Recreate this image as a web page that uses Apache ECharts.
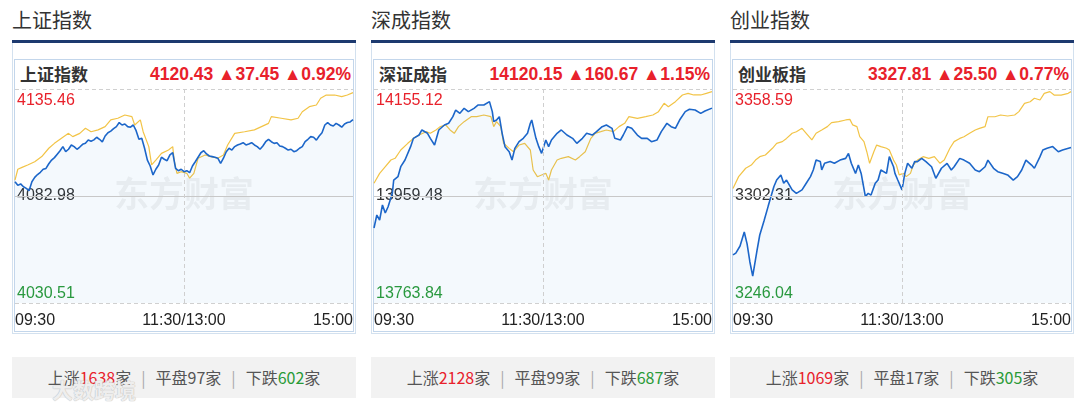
<!DOCTYPE html>
<html>
<head>
<meta charset="utf-8">
<script src="https://cdn.jsdelivr.net/npm/echarts@6/dist/echarts.min.js"></script>
<style>
  body { margin: 0; width: 1080px; height: 405px; overflow: hidden; background: #fff; position: relative;
         font-family: "Liberation Sans", Arial, "Noto Sans CJK SC", sans-serif; }
  .abs { position: absolute; }
  .title { top: 7px; font-size: 20px; line-height: 26px; color: #333; font-family: "Noto Sans CJK SC", sans-serif; }
  .bar { top: 40px; width: 344px; height: 3px; background: #1d3a6f; }
  .box { top: 43px; width: 344px; height: 291px; border: 1px solid #d3e1ef; border-top: none; box-sizing: border-box; }
  .inner { top: 59px; width: 340px; height: 273px; border: 1px solid #c3d6eb; box-sizing: border-box; }
  .hname { top: 61px; font-size: 17px; font-weight: bold; line-height: 26px; color: #333; font-family: "Noto Sans CJK SC", sans-serif; }
  .hquote { top: 61px; font-size: 17.5px; font-weight: bold; line-height: 26px; color: #e8212b; text-align: right; width: 300px; }
  .chart { top: 43px; width: 344px; height: 291px; }
  .stats { top: 357px; width: 344px; height: 41px; background: #f2f2f2; text-align: center; line-height: 41px;
           font-size: 16px; color: #555; font-family: "Noto Sans CJK SC", sans-serif; }
  .stats .up { color: #e8212b; }
  .stats .dn { color: #2a9a37; }
  .stats .sep { color: #aaa; margin: 0 10px; }
  .mark { left: 52px; top: 374px; font-size: 21px; font-weight: bold; color: rgba(255,255,255,0.75);
          text-shadow: 0 0 1px #bbb, 0 0 1px #bbb; font-family: "Noto Sans CJK SC", sans-serif; }
</style>
</head>
<body>
<div id="app"></div>
<div class="abs mark">大数跨境</div>
<script>
// x 轴刻度
const xTicks = ['09:30', '11:30/13:00', '15:00']

const names = ['上证指数', '深证成指', '创业板指']
const titles = ['上证指数', '深成指数', '创业指数']
const quotes = [
  ['4120.43', '▲37.45', '▲0.92%'],
  ['14120.15', '▲160.67', '▲1.15%'],
  ['3327.81', '▲25.50', '▲0.77%']
]
// 上涨 / 平盘 / 下跌 家数
const stats = [
  [1638, 97, 602],
  [2128, 99, 687],
  [1069, 17, 305]
]
// y 轴标签 (最低 / 昨收 / 最高)
const shTicks = ['4030.51', '4082.98', '4135.46']
const szTicks = ['13763.84', '13959.48', '14155.12']
const cyTicks = ['3246.04', '3302.31', '3358.59']

// [分钟, 点位]
const shIndex = [[0,4090.0],[2,4088.2],[4,4088.9],[6,4087.5],[8,4086.7],[10,4085.6],[12,4090.0],[14,4092.1],[16,4093.5],[18,4094.6],[20,4096.1],[22,4096.5],[24,4098.8],[26,4100.6],[28,4101.8],[30,4103.5],[32,4105.2],[34,4107.2],[36,4104.7],[38,4105.9],[40,4108.0],[42,4107.2],[44,4105.9],[46,4107.0],[48,4108.3],[50,4108.8],[52,4110.4],[54,4109.8],[56,4110.5],[58,4111.8],[60,4110.8],[62,4109.5],[64,4112.4],[66,4114.0],[68,4114.8],[70,4116.0],[72,4117.0],[74,4119.0],[76,4117.8],[78,4118.3],[80,4117.0],[82,4116.7],[84,4117.8],[86,4115.0],[88,4110.8],[90,4111.3],[92,4106.4],[94,4100.6],[96,4097.7],[98,4093.3],[100,4096.1],[102,4098.2],[104,4102.0],[106,4101.0],[108,4100.3],[110,4103.1],[112,4104.2],[114,4096.5],[116,4095.4],[118,4096.1],[120,4094.9],[122,4095.4],[124,4094.4],[126,4097.7],[128,4099.8],[130,4102.0],[132,4104.2],[134,4105.2],[136,4103.6],[138,4102.6],[140,4102.3],[142,4102.0],[144,4101.5],[146,4099.0],[148,4101.5],[150,4104.7],[152,4106.4],[154,4105.5],[156,4107.2],[158,4108.0],[160,4108.5],[162,4109.1],[164,4108.0],[166,4108.5],[168,4109.1],[170,4108.0],[172,4107.2],[174,4105.9],[176,4107.5],[178,4109.6],[180,4110.8],[182,4109.6],[184,4108.8],[186,4109.1],[188,4107.5],[190,4107.2],[192,4106.4],[194,4105.5],[196,4105.9],[198,4104.7],[200,4105.2],[202,4106.4],[204,4107.2],[206,4109.6],[208,4110.8],[210,4112.1],[212,4111.8],[214,4110.4],[216,4112.4],[218,4114.0],[220,4117.8],[222,4119.0],[224,4117.8],[226,4117.3],[228,4118.6],[230,4117.8],[232,4116.7],[234,4118.3],[236,4119.0],[238,4119.3],[240,4120.43]]
const shAvg = [[0,4090.8],[2,4096.1],[5,4097.0],[9,4098.2],[14,4099.8],[19,4102.3],[24,4106.4],[28,4108.8],[33,4111.3],[38,4113.7],[41,4112.1],[46,4113.7],[50,4116.2],[54,4114.5],[59,4115.4],[64,4117.0],[68,4120.3],[73,4121.1],[78,4122.7],[83,4121.9],[85,4117.8],[89,4120.3],[91,4114.5],[95,4107.2],[97,4098.2],[100,4100.6],[104,4103.9],[109,4105.5],[112,4107.2],[113,4100.6],[115,4094.1],[118,4094.9],[122,4094.1],[124,4091.7],[127,4094.1],[130,4101.5],[135,4103.1],[139,4102.3],[144,4101.5],[148,4103.1],[151,4108.0],[156,4113.7],[163,4114.5],[170,4115.4],[175,4117.0],[180,4118.6],[182,4121.9],[189,4121.1],[196,4120.3],[201,4121.1],[204,4124.3],[209,4126.8],[214,4127.6],[217,4130.9],[221,4132.5],[227,4132.5],[232,4131.7],[236,4132.5],[240,4133.7]]

const szIndex = [[0,13901.0],[2,13924.7],[4,13915.6],[6,13943.0],[8,13928.4],[10,13939.9],[13,13964.4],[14,13988.7],[17,13994.8],[19,14013.1],[22,14025.3],[26,14049.7],[28,14064.9],[32,14071.0],[34,14080.2],[38,14074.1],[40,14064.9],[43,14052.7],[46,14080.2],[50,14089.3],[53,14092.4],[56,14104.5],[58,14116.7],[61,14110.6],[64,14119.8],[67,14113.7],[71,14119.8],[74,14125.9],[78,14125.9],[82,14132.0],[84,14113.7],[85,14095.4],[87,14098.4],[89,14104.5],[91,14074.1],[93,14049.7],[96,14040.5],[98,14025.3],[100,14046.6],[103,14058.8],[106,14064.9],[109,14074.1],[111,14092.4],[112,14098.4],[115,14064.9],[117,14049.7],[119,14037.5],[122,14061.9],[124,14049.7],[126,14061.9],[130,14074.1],[133,14080.2],[137,14071.0],[141,14064.9],[144,14055.8],[148,14064.9],[151,14074.1],[155,14071.0],[158,14077.1],[162,14086.3],[165,14089.3],[169,14083.2],[171,14064.9],[175,14061.9],[177,14071.0],[180,14086.3],[183,14083.2],[187,14071.0],[190,14064.9],[194,14064.9],[197,14058.8],[201,14061.9],[204,14077.1],[208,14092.4],[211,14086.3],[214,14083.2],[217,14098.4],[221,14113.7],[224,14118.0],[228,14116.7],[232,14110.6],[235,14114.9],[240,14120.15]]
const szAvg = [[0,13982.7],[4,14000.9],[7,14010.1],[12,14025.3],[15,14028.4],[19,14043.6],[24,14055.8],[28,14064.9],[32,14071.0],[37,14077.1],[40,14074.1],[44,14080.2],[47,14086.3],[51,14089.3],[54,14080.2],[57,14074.1],[60,14086.3],[64,14095.4],[69,14104.5],[73,14104.5],[78,14107.6],[83,14104.5],[85,14086.3],[87,14095.4],[90,14086.3],[92,14055.8],[96,14046.6],[99,14040.5],[103,14052.7],[107,14055.8],[111,14043.6],[113,14007.0],[116,13994.8],[119,13997.9],[122,14000.9],[124,13988.7],[126,14007.0],[130,14025.3],[133,14028.4],[138,14031.4],[143,14025.3],[146,14031.4],[150,14040.5],[154,14064.9],[157,14074.1],[161,14077.1],[165,14080.2],[170,14077.1],[174,14086.3],[178,14092.4],[181,14104.5],[187,14101.5],[193,14104.5],[198,14107.6],[202,14113.7],[206,14128.9],[209,14122.8],[214,14132.0],[219,14144.2],[223,14147.2],[227,14144.2],[232,14144.2],[236,14147.2],[240,14150.2]]

const cyIndex = [[0,3271.3],[2,3272.3],[5,3276.0],[8,3283.4],[10,3277.1],[12,3267.6],[14,3260.2],[17,3273.4],[19,3281.8],[22,3289.2],[25,3297.0],[29,3307.2],[31,3310.7],[34,3313.4],[36,3309.0],[38,3310.7],[42,3305.5],[45,3303.7],[49,3305.5],[52,3309.0],[55,3312.5],[57,3316.0],[59,3321.2],[62,3320.4],[63,3316.0],[65,3319.5],[69,3320.4],[72,3319.5],[76,3321.2],[80,3322.1],[82,3324.7],[84,3319.5],[87,3314.2],[89,3318.6],[91,3314.2],[94,3302.0],[96,3303.7],[98,3302.8],[101,3309.0],[103,3310.7],[105,3316.0],[109,3314.2],[111,3323.0],[114,3317.7],[115,3314.2],[117,3310.7],[120,3305.5],[122,3314.2],[124,3319.5],[127,3316.9],[129,3320.4],[131,3320.4],[134,3322.1],[137,3320.4],[141,3317.7],[144,3311.6],[148,3316.9],[152,3319.5],[155,3316.0],[157,3317.7],[161,3322.1],[164,3321.2],[168,3319.5],[172,3316.0],[175,3315.1],[179,3317.7],[181,3321.2],[185,3316.9],[188,3315.1],[192,3314.2],[195,3313.4],[199,3310.7],[202,3312.5],[205,3316.0],[208,3321.2],[212,3318.6],[214,3316.9],[218,3323.0],[220,3326.5],[223,3327.4],[227,3328.3],[231,3325.6],[234,3326.5],[240,3327.81]]
const cyAvg = [[0,3306.3],[4,3312.5],[9,3316.9],[13,3318.6],[16,3321.2],[19,3323.0],[23,3323.9],[28,3327.4],[31,3330.0],[35,3330.9],[38,3332.6],[42,3335.3],[45,3336.1],[49,3337.9],[52,3335.3],[56,3331.8],[59,3335.3],[63,3337.0],[67,3338.8],[70,3340.9],[75,3341.4],[80,3342.3],[83,3342.6],[85,3339.7],[88,3338.8],[90,3333.5],[93,3330.9],[95,3325.6],[97,3319.5],[100,3325.6],[102,3329.1],[105,3328.3],[109,3327.4],[111,3326.5],[114,3321.2],[116,3318.6],[118,3313.4],[121,3314.2],[123,3312.5],[126,3314.2],[128,3318.6],[131,3321.2],[135,3323.0],[139,3322.1],[143,3323.0],[147,3319.5],[150,3321.2],[154,3327.4],[157,3330.9],[161,3332.6],[164,3333.5],[168,3335.3],[172,3337.0],[175,3337.9],[179,3338.8],[181,3344.0],[186,3344.0],[190,3344.9],[195,3344.4],[200,3344.9],[203,3346.7],[207,3351.0],[211,3351.9],[214,3353.7],[218,3352.8],[221,3356.3],[225,3357.2],[228,3355.4],[233,3355.4],[238,3356.3],[240,3357.2]]

const panels = [
  { ticks: shTicks, index: shIndex, avg: shAvg },
  { ticks: szTicks, index: szIndex, avg: szAvg },
  { ticks: cyTicks, index: cyIndex, avg: cyAvg }
]
const lefts = [12, 371, 730]

const RED = '#e8212b'
const GREEN = '#2a9a37'

function buildPanel(i) {
  const L = lefts[i]
  const app = document.getElementById('app')
  const s = stats[i]
  app.insertAdjacentHTML('beforeend', `
    <div class="abs title" style="left:${L}px">${titles[i]}</div>
    <div class="abs bar" style="left:${L}px"></div>
    <div class="abs box" style="left:${L}px"></div>
    <div class="abs inner" style="left:${L + 2}px"></div>
    <div class="abs hname" style="left:${L + 8}px">${names[i]}</div>
    <div class="abs hquote" style="left:${L + 39}px">${quotes[i].join(' ')}</div>
    <div class="abs chart" id="chart${i}" style="left:${L}px"></div>
    <div class="abs stats" style="left:${L}px">上涨<span class="up">${s[0]}</span>家<span class="sep">|</span>平盘${s[1]}家<span class="sep">|</span>下跌<span class="dn">${s[2]}</span>家</div>
  `)
}

function initChart(i) {
  const p = panels[i]
  const prev = parseFloat(p.ticks[1])
  const half = (parseFloat(p.ticks[2]) - parseFloat(p.ticks[0])) / 2
  const chart = echarts.init(document.getElementById('chart' + i))
  const option = {
    animation: false,
    grid: { left: 3, right: 3, top: 46, bottom: 31 },
    graphic: [{
      type: 'text',
      left: 'center',
      top: 133,
      silent: true,
      style: {
        text: '东方财富',
        font: 'bold 35px "Noto Sans CJK SC"',
        fill: 'rgba(0,0,0,0.055)'
      }
    }],
    xAxis: {
      type: 'value',
      min: 0,
      max: 240,
      interval: 120,
      axisLine: { show: false },
      axisTick: { show: false },
      splitLine: { show: false },
      axisLabel: {
        margin: 10,
        fontSize: 16,
        color: '#222',
        fontFamily: 'Liberation Sans',
        alignMinLabel: 'left',
        alignMaxLabel: 'right',
        formatter: v => xTicks[Math.round(v / 120)]
      }
    },
    yAxis: {
      type: 'value',
      min: -half,
      max: half,
      interval: half,
      axisLine: { show: false },
      axisTick: { show: false },
      splitLine: { lineStyle: { color: '#d0d0d0', type: [4, 3] } },
      axisLabel: {
        inside: true,
        margin: 2,
        verticalAlignMinLabel: 'bottom',
        verticalAlignMaxLabel: 'top',
        formatter: v => {
          const k = Math.round(v / half) + 1
          return ['{dn|', '{mid|', '{up|'][k] + p.ticks[k] + '}'
        },
        rich: {
          up: { color: RED, fontSize: 16, fontFamily: 'Liberation Sans', padding: [4, 0, 0, 0] },
          mid: { color: '#333', fontSize: 16, fontFamily: 'Liberation Sans' },
          dn: { color: GREEN, fontSize: 16, fontFamily: 'Liberation Sans', padding: [0, 0, 1, 0] }
        }
      }
    },
    series: [
      {
        type: 'line',
        data: p.avg.map(d => [d[0], d[1] - prev]),
        showSymbol: false,
        lineStyle: { color: '#f2c447', width: 1.2 },
        z: 2
      },
      {
        type: 'line',
        data: p.index.map(d => [d[0], d[1] - prev]),
        showSymbol: false,
        lineStyle: { color: '#1c66c9', width: 1.6 },
        areaStyle: { color: 'rgba(40,130,225,0.075)', origin: 'start' },
        z: 3,
        markLine: {
          silent: true,
          symbol: 'none',
          label: { show: false },
          data: [
            { yAxis: 0, lineStyle: { color: '#c8c8c8', type: 'solid', width: 1 } },
            { xAxis: 120, lineStyle: { color: '#cfcfcf', type: [4, 3], width: 1 } }
          ]
        }
      }
    ]
  }
  chart.setOption(option)
}

for (let i = 0; i < 3; i++) {
  buildPanel(i)
  initChart(i)
}
</script>
</body>
</html>
